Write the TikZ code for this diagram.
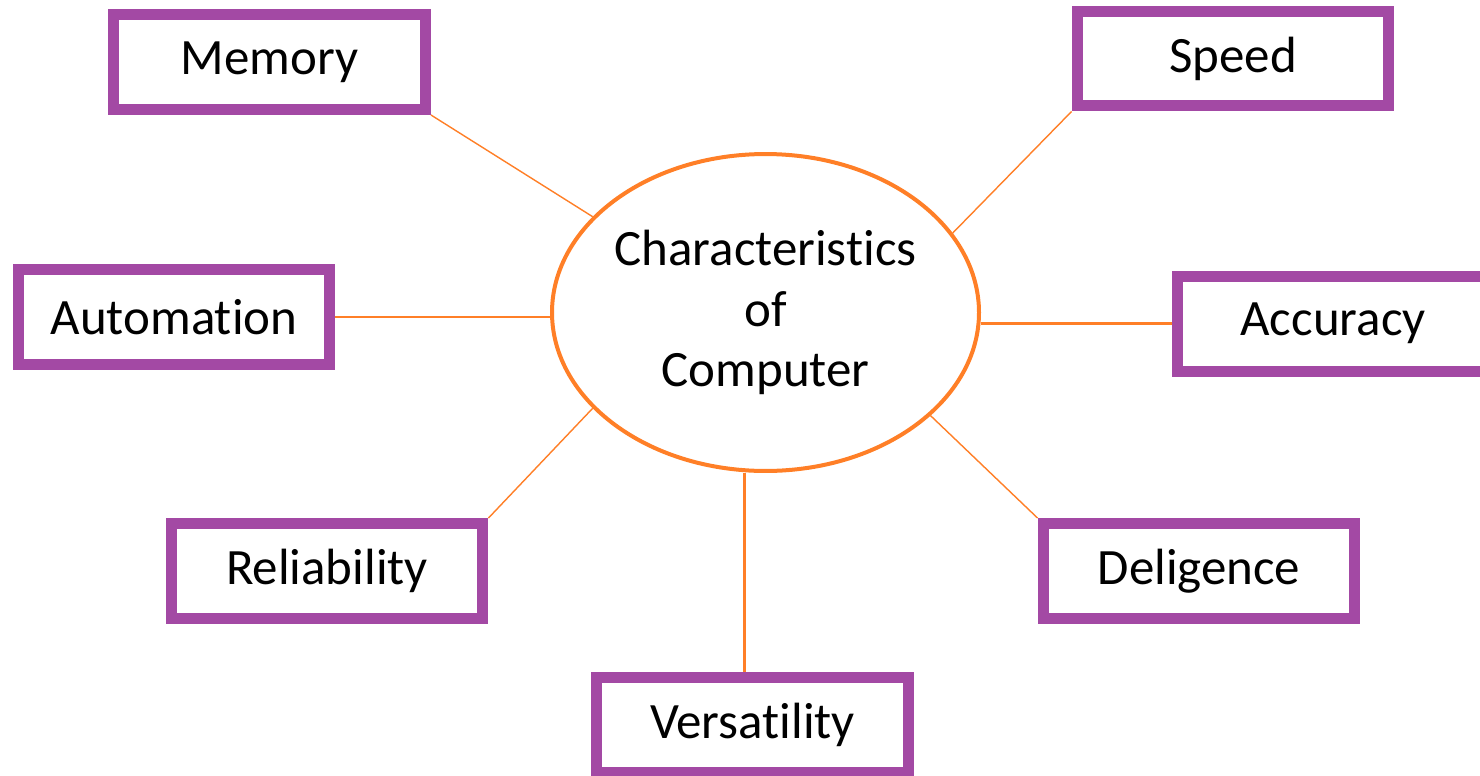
\documentclass[tikz,border=0pt]{standalone}
\usepackage{fontspec}
\setmainfont{Carlito}[Ligatures=NoCommon]
\usepackage{tikz}
\usetikzlibrary{shapes.geometric}
\definecolor{boxPurple}{HTML}{A349A4}
\definecolor{linkOrange}{HTML}{FF7F27}
\newcommand\labelFont{\fontsize{29}{34.6}\selectfont}

\begin{document}
\begin{tikzpicture}[
        x=0.02cm, y=-0.02cm,
        trait/.style={draw=boxPurple, line width=0.22cm, minimum width=6.24cm,
            minimum height=1.9cm, inner sep=0, font=\labelFont},
        hub/.style={ellipse, draw=linkOrange, line width=0.08cm, minimum width=8.42cm,
            minimum height=6.34cm, inner sep=0, align=center, font=\labelFont},
        thin link/.style={draw=linkOrange, line width=0.8pt},
        thick link/.style={draw=linkOrange, line width=1.5pt}
    ]
    \useasboundingbox (0,0) rectangle (1480,775);
    \clip (0,0) rectangle (1480,775);

    \node[hub] (hub) at (765.5,312.5) {Characteristics\\of\\Computer};

    \node[trait] (memory)      at (269.5,62)  {Memory};
    \node[trait] (speed)       at (1233,58.5) {Speed};
    \node[trait] (automation)  at (174,317)   {Automation};
    \node[trait] (accuracy)    at (1333,323.5) {Accuracy};
    \node[trait] (reliability) at (327,571)   {Reliability};
    \node[trait] (deligence)   at (1199,571)  {Deligence};
    \node[trait] (versatility) at (752.5,725) {Versatility};

    % diagonal links
    \draw[thin link] (hub.151.7) -- (memory.south east);
    \draw[thin link] (hub.23.2)  -- (speed.south west);
    \draw[thin link] (hub.209.3) -- (reliability.north east);
    \draw[thin link] (hub.328.4) -- (deligence.north west);
    % straight links
    \draw[thick link] (automation.east) -- (automation.east -| hub.west);
    \draw[thick link] (hub.east |- accuracy.west) -- (accuracy.west);
    \draw[thick link] ([xshift=-4.5]versatility.north |- hub.south) -- ([xshift=-4.5]versatility.north);
\end{tikzpicture}
\end{document}
